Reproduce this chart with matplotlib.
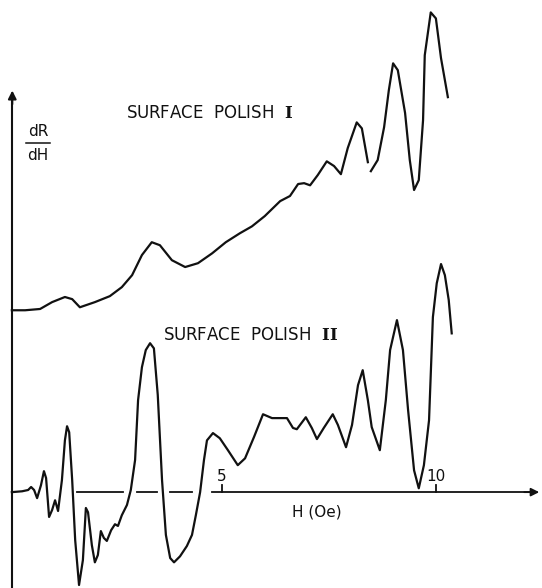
import matplotlib
matplotlib.use('Agg')
import matplotlib.pyplot as plt
import numpy as np

plt.rcParams['mathtext.fontset'] = 'dejavuserif'

# field H (Oe) and dR/dH (arbitrary units)
h_polish1 = [0.09, 0.40, 0.75, 1.03, 1.33, 1.50, 1.68, 2.03, 2.38, 2.66, 2.90, 3.13,
             3.36, 3.55, 3.83, 4.14, 4.44, 4.77, 5.09, 5.42, 5.70, 6.00, 6.36, 6.59,
             6.78, 6.92, 7.06, 7.24, 7.45, 7.62, 7.78, 7.94, 8.15, 8.27, 8.41, np.nan,
             8.48, 8.64, 8.79, 8.90, 9.00, 9.11, 9.28, 9.39, 9.49, 9.60, 9.70, 9.74,
             9.88, 10.00, 10.12, 10.28]
d_polish1 = [4.25, 4.25, 4.28, 4.44, 4.56, 4.51, 4.32, 4.44, 4.58, 4.79, 5.07, 5.54,
             5.84, 5.77, 5.42, 5.26, 5.35, 5.58, 5.84, 6.05, 6.21, 6.45, 6.80, 6.92,
             7.20, 7.22, 7.17, 7.41, 7.73, 7.62, 7.43, 8.04, 8.64, 8.50, 7.71, np.nan,
             7.50, 7.76, 8.53, 9.39, 10.02, 9.86, 8.86, 7.76, 7.06, 7.29, 8.69, 10.21,
             11.21, 11.07, 10.14, 9.23]

h_polish2 = [0.09, 0.33, 0.47, 0.54, 0.61, 0.68, 0.77, 0.84, 0.89, 0.96, 1.03, 1.10,
             1.17, 1.26, 1.33, 1.38, 1.43, 1.50, 1.57, 1.66, 1.75, 1.82, 1.87, 1.96,
             2.03, 2.10, 2.17, 2.24, 2.31, 2.41, 2.50, 2.57, 2.66, 2.78, 2.87, 2.97,
             3.04, 3.13, 3.22, 3.32, 3.41, 3.50, 3.60, 3.69, 3.79, 3.88, 4.02, 4.18,
             4.30, 4.39, 4.49, 4.58, 4.65, 4.79, 4.95, 5.14, 5.37, 5.54, 5.75, 5.96,
             6.17, 6.36, 6.52, 6.66, 6.75, 6.96, 7.10, 7.22, 7.38, 7.59, 7.71, 7.90,
             8.04, 8.18, 8.29, 8.41, 8.50, 8.69, 8.83, 8.93, 9.09, 9.23, 9.35, 9.49,
             9.60, 9.72, 9.84, 9.93, 10.02, 10.12, 10.21, 10.30, 10.37]
d_polish2 = [0.00, 0.02, 0.05, 0.12, 0.05, -0.14, 0.16, 0.49, 0.33, -0.58, -0.42, -0.19,
             -0.44, 0.28, 1.21, 1.54, 1.40, 0.28, -1.12, -2.17, -1.59, -0.37, -0.47, -1.24,
             -1.64, -1.47, -0.91, -1.07, -1.14, -0.89, -0.75, -0.79, -0.54, -0.30, 0.05, 0.75,
             2.15, 2.92, 3.32, 3.48, 3.36, 2.27, 0.28, -1.00, -1.54, -1.64, -1.50, -1.26,
             -1.00, -0.54, 0.00, 0.75, 1.21, 1.38, 1.26, 0.98, 0.63, 0.79, 1.29, 1.82,
             1.73, 1.73, 1.73, 1.50, 1.47, 1.75, 1.50, 1.24, 1.50, 1.82, 1.57, 1.05,
             1.57, 2.50, 2.85, 2.15, 1.52, 0.98, 2.15, 3.32, 4.02, 3.32, 1.92, 0.51,
             0.09, 0.63, 1.68, 4.09, 4.88, 5.33, 5.07, 4.49, 3.71]

tick_values = [5, 10]
tick_labels = ['5', '10']

fig = plt.figure(figsize=(5.42, 5.88), dpi=100)
ax = fig.add_axes([0, 0, 1, 1])
ax.set_xlim(-0.187, 12.48)
ax.set_ylim(-2.24, 11.50)
ax.axis('off')

ink = '#111111'

# axes drawn by hand like the original figure
ax.plot([0.1, 0.1], [-2.3, 9.2], color=ink, lw=1.5, solid_capstyle='butt')
ax.annotate('', xy=(0.1, 9.45), xytext=(0.1, 9.0),
            arrowprops=dict(arrowstyle='-|>', color=ink, lw=1.5, mutation_scale=12))
ax.plot([4.77, 12.2], [0, 0], color=ink, lw=1.3)
ax.annotate('', xy=(12.48, 0), xytext=(12.0, 0),
            arrowprops=dict(arrowstyle='-|>', color=ink, lw=1.3, mutation_scale=12))
# broken baseline under the left part of the trace
for x0, x1 in [(1.61, 2.69), (3.01, 3.48), (3.79, 4.30)]:
    ax.plot([x0, x1], [0, 0], color=ink, lw=1.3)

for v, lab in zip(tick_values, tick_labels):
    ax.plot([v, v], [0, 0.16], color=ink, lw=1.3)
    ax.text(v, 0.2, lab, ha='center', va='bottom', fontsize=11, color=ink)

ax.plot(h_polish1, d_polish1, color=ink, lw=1.6)
ax.plot(h_polish2, d_polish2, color=ink, lw=1.6)

ax.text(4.72, 8.86, r'SURFACE  POLISH  $\mathbf{I}$', ha='center', va='center',
        fontsize=12, color=ink)
ax.text(5.68, 3.67, r'SURFACE  POLISH  $\mathbf{II}$', ha='center', va='center',
        fontsize=12, color=ink)

ax.text(0.70, 8.25, 'dR', ha='center', va='bottom', fontsize=11, color=ink)
ax.plot([0.42, 0.98], [8.15, 8.15], color=ink, lw=1.1)
ax.text(0.70, 8.05, 'dH', ha='center', va='top', fontsize=11, color=ink)

ax.text(7.22, -0.47, 'H (Oe)', ha='center', va='center', fontsize=11, color=ink)

fig.savefig('out.png', dpi=100)
